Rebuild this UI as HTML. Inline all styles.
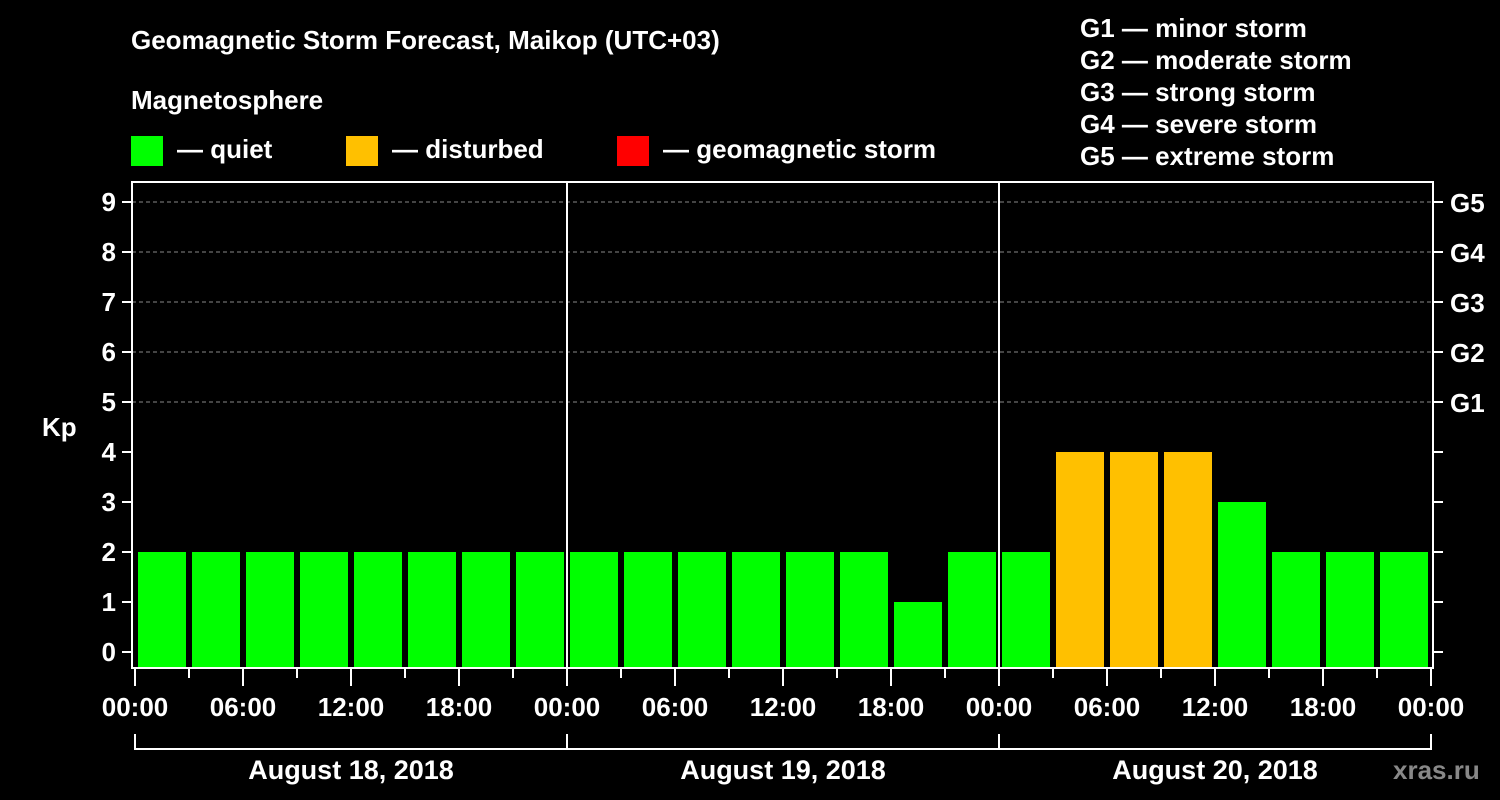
<!DOCTYPE html>
<html><head><meta charset="utf-8"><style>
body{margin:0;background:#000;}
svg{display:block;font-family:"Liberation Sans",sans-serif;font-weight:bold;}
</style></head><body>
<svg id="c" width="1500" height="800" viewBox="0 0 1500 800">
<rect width="1500" height="800" fill="#000"/>
<g fill="#fff" font-size="26">
<text x="131" y="49">Geomagnetic Storm Forecast, Maikop (UTC+03)</text>
<text x="131" y="109">Magnetosphere</text>
<rect x="131" y="136" width="32" height="30" fill="#00ff00"/>
<text x="177" y="158">— quiet</text>
<rect x="346" y="136" width="32" height="30" fill="#ffc000"/>
<text x="392" y="158">— disturbed</text>
<rect x="617" y="136" width="32" height="30" fill="#ff0000"/>
<text x="663" y="158">— geomagnetic storm</text>
<text x="1080" y="37">G1 — minor storm</text>
<text x="1080" y="69">G2 — moderate storm</text>
<text x="1080" y="101">G3 — strong storm</text>
<text x="1080" y="133">G4 — severe storm</text>
<text x="1080" y="165">G5 — extreme storm</text>
<text x="42" y="436">Kp</text>
<text x="1393" y="779" fill="#888" font-size="26">xras.ru</text>
</g>
<g id="grid"></g><g id="bars"></g><g id="axes"></g>
</svg>
<script>
const kpValues=[2,2,2,2,2,2,2,2, 2,2,2,2,2,2,1,2, 2,4,4,4,3,2,2,2];
const dayLabels=["August 18, 2018","August 19, 2018","August 20, 2018"];
const hourLabels=["00:00","06:00","12:00","18:00"];
const gLabels=["G1","G2","G3","G4","G5"];
const yTicks=[0,1,2,3,4,5,6,7,8,9];
const NS="http://www.w3.org/2000/svg";
const X0=135, HOUR=18, Y0=652, UNIT=50, TOP=182, BOT=668, LEFT=132, RIGHT=1433;
const x=h=>X0+h*HOUR, y=v=>Y0-v*UNIT;
function mk(tag,attrs,parent,txt){const e=document.createElementNS(NS,tag);for(const k in attrs)e.setAttribute(k,attrs[k]);if(txt!==undefined)e.textContent=txt;document.getElementById(parent).appendChild(e);return e;}
const white="#fff";
// grid
yTicks.forEach(v=>{
 if(v>=5){const g=mk('line',{x1:LEFT,x2:RIGHT,y1:y(v),y2:y(v),stroke:'#888','stroke-dasharray':'4,3','stroke-width':1},'grid');
 
 }
});
// bars
kpValues.forEach((v,i)=>{
 const col=v>=5?'#ff0000':(v>=4?'#ffc000':'#00ff00');
 const r=mk('rect',{x:x(i*3)+3,y:y(v),width:48,height:BOT-y(v),fill:col},'bars');
 
 
});
// axes frame
const f=mk('rect',{x:LEFT,y:TOP,width:RIGHT-LEFT,height:BOT-TOP,fill:'none',stroke:white,'stroke-width':2},'axes');


[1,2].forEach(d=>{const l=mk('line',{x1:x(d*24),x2:x(d*24),y1:TOP,y2:BOT,stroke:white,'stroke-width':2},'axes');
 
 });
yTicks.forEach(v=>{
 mk('line',{x1:122,x2:LEFT,y1:y(v),y2:y(v),stroke:white,'stroke-width':2},'axes');
 mk('line',{x1:RIGHT,x2:1443,y1:y(v),y2:y(v),stroke:white,'stroke-width':2},'axes');
 const t=mk('text',{x:116,y:y(v)+9,fill:white,'font-size':26,'text-anchor':'end'},'axes',String(v));
 
 
});
gLabels.forEach((g,i)=>{const t=mk('text',{x:1450,y:y(5+i)+10,fill:white,'font-size':26},'axes',g);
 
 });
for(let h=0;h<=72;h+=3){
 const major=h%6===0;
 mk('line',{x1:x(h),x2:x(h),y1:BOT,y2:major?686:678,stroke:white,'stroke-width':2},'axes');
 if(major){const t=mk('text',{x:x(h),y:716,fill:white,'font-size':26,'text-anchor':'middle'},'axes',hourLabels[(h/6)%4]);
 
 }
}
mk('path',{d:`M${x(0)},734 V749 H${x(72)} V734 M${x(24)},734 V749 M${x(48)},734 V749`,fill:'none',stroke:white,'stroke-width':2},'axes');
dayLabels.forEach((d,i)=>{const t=mk('text',{x:x(i*24+12),y:779,fill:white,'font-size':27,'text-anchor':'middle'},'axes',d);
 
 });
</script>
</body></html>
